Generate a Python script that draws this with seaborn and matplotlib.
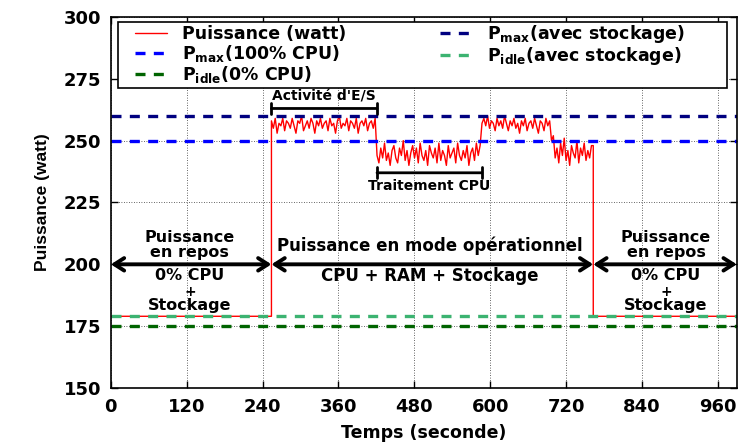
import numpy as np
import pandas as pd
import seaborn as sns
import matplotlib.pyplot as plt
from matplotlib.patches import Rectangle

# reference levels (watt)
p_max_stockage = 260
p_max_cpu = 250
p_idle_stockage = 179
p_idle_cpu = 175

# phase boundaries (s)
t_start = 254
t_io_end = 421
t_cpu_end = 587
t_io2_end = 697
t_stop = 763
t_end = 990

# power readings, one every 3 s
io_phase = [258, 255, 259, 253, 257, 256, 259, 254, 258, 257, 255, 259, 256, 253,
            258, 257, 260, 254, 256, 258, 255, 259, 257, 253, 258, 256, 259, 255,
            257, 258, 254, 259, 256, 257, 253, 258, 260, 255, 257, 256, 259, 254,
            258, 257, 255, 259, 253, 257, 258, 256, 259, 254, 257, 258, 255, 259]
cpu_phase = [244, 241, 247, 243, 249, 242, 245, 240, 246, 248, 243, 241, 247, 244,
             250, 242, 246, 240, 245, 248, 243, 247, 241, 249, 244, 242, 246, 240,
             248, 245, 243, 247, 241, 249, 242, 246, 244, 240, 248, 243, 245, 247,
             241, 249, 244, 242, 246, 243, 248, 240, 245, 247, 242, 249, 244, 248]
io2_phase = [257, 259, 256, 260, 255, 258, 257, 254, 259, 256, 258, 255, 260, 257,
             254, 258, 256, 259, 255, 257, 253, 258, 256, 259, 254, 257, 258, 255,
             259, 256, 253, 258, 257, 254, 259, 256, 258]
cpu2_phase = [250, 252, 243, 247, 241, 249, 244, 251, 242, 246, 240, 248, 245, 243,
              250, 241, 247, 244, 249, 242, 246, 243, 248]

xticks = [0, 120, 240, 360, 480, 600, 720, 840, 960]
yticks = [150, 175, 200, 225, 250, 275, 300]

# build the trace
times = [0, t_start]
watts = [p_idle_stockage, p_idle_stockage]
for start, end, vals in [(t_start, t_io_end, io_phase), (t_io_end, t_cpu_end, cpu_phase),
                         (t_cpu_end, t_io2_end, io2_phase), (t_io2_end, t_stop, cpu2_phase)]:
    tt = np.linspace(start, end, len(vals), endpoint=False)
    times += list(tt)
    watts += vals
times += [t_stop, t_stop, t_end]
watts += [cpu2_phase[-1], p_idle_stockage, p_idle_stockage]
df = pd.DataFrame({'t': times, 'p': watts})

sns.set_style('ticks')
plt.rcParams['font.family'] = ['DejaVu Sans']
plt.rcParams['font.weight'] = 'bold'
plt.rcParams['mathtext.fontset'] = 'dejavusans'
plt.rcParams['mathtext.default'] = 'bf'
for k in ['text.color', 'axes.labelcolor', 'xtick.color', 'ytick.color', 'axes.edgecolor']:
    plt.rcParams[k] = 'black'

fig = plt.figure(figsize=(7.39, 4.46), dpi=100)
ax = fig.add_axes([0.150, 0.130, 0.847, 0.832])

ax.grid(True, color='#333333', linestyle=(0, (1, 2)), linewidth=0.6)
ax.set_axisbelow(True)

sns.lineplot(data=df, x='t', y='p', sort=False, estimator=None, color='red',
             linewidth=1, ax=ax, label='Puissance (watt)')
dash = (0, (3, 2.5))
ax.axhline(p_max_cpu, color='#0000ff', lw=2.4, ls=dash, label=r'P$_{max}$(100% CPU)')
ax.axhline(p_idle_cpu, color='#006400', lw=2.4, ls=dash, label=r'P$_{idle}$(0% CPU)')
ax.axhline(p_max_stockage, color='#000080', lw=2.4, ls=dash, label=r'P$_{max}$(avec stockage)')
ax.axhline(p_idle_stockage, color='#3cb371', lw=2.4, ls=dash, label=r'P$_{idle}$(avec stockage)')

ax.set_xlim(0, t_end)
ax.set_ylim(150, 300)
ax.set_xticks(xticks)
ax.set_yticks(yticks)
ax.tick_params(direction='in', labelsize=13, top=True, right=True, length=5, width=1,
               pad=7)
for lab in ax.get_xticklabels() + ax.get_yticklabels():
    lab.set_fontweight('bold')
ax.set_xlabel('Temps (seconde)', fontsize=12.5, fontweight='bold', labelpad=6)
ax.set_ylabel('Puissance (watt)', fontsize=12.5, fontweight='bold', labelpad=10,
              family='Liberation Sans')
for s in ax.spines.values():
    s.set_linewidth(1.2)

# double arrows
for a, b in [(0, t_start), (t_start, t_stop), (t_stop, t_end)]:
    ax.annotate('', xy=(a, 200), xytext=(b, 200),
                arrowprops=dict(arrowstyle='<->,head_length=0.7,head_width=0.45',
                                lw=2.8, color='black', shrinkA=0, shrinkB=0))

skw = dict(ha='center', fontsize=11.5, fontweight='bold')
for xc in [125, 878]:
    ax.text(xc, 209.0, 'Puissance', va='baseline', **skw)
    ax.text(xc, 202.8, 'en repos', va='baseline', **skw)
    ax.text(xc, 193.6, '0% CPU', va='baseline', **skw)
    ax.text(xc, 189.0, '+', va='center', ha='center', fontsize=10, fontweight='bold')
    ax.text(xc, 181.6, 'Stockage', va='baseline', **skw)
tkw = dict(ha='center', fontsize=12, fontweight='bold')
ax.text(505, 205.3, 'Puissance en mode opérationnel', va='baseline', **tkw)
ax.text(505, 193.2, 'CPU + RAM + Stockage', va='baseline', **tkw)

# brackets
ax.annotate('', xy=(t_start, 263), xytext=(t_io_end, 263),
            arrowprops=dict(arrowstyle='|-|,widthA=0.4,widthB=0.4', lw=2, color='black',
                            shrinkA=0, shrinkB=0))
ax.text((t_start + t_io_end) / 2, 265, "Activité d'E/S", ha='center', va='bottom',
        fontsize=10, fontweight='bold')
ax.annotate('', xy=(t_io_end, 237), xytext=(t_cpu_end, 237),
            arrowprops=dict(arrowstyle='|-|,widthA=0.4,widthB=0.4', lw=2, color='black',
                            shrinkA=0, shrinkB=0))
ax.text((t_io_end + t_cpu_end) / 2, 234.5, 'Traitement CPU', ha='center', va='top',
        fontsize=10, fontweight='bold')

# legend: white box with black frame, entries laid out in two columns
ax.add_patch(Rectangle((0.0112, 0.8086), 0.9728, 0.178, transform=ax.transAxes,
                       facecolor='white', edgecolor='black', lw=1.2, zorder=4))
handles, labels = ax.get_legend_handles_labels()
leg = ax.legend(handles, labels, ncol=2, loc='upper left',
                bbox_to_anchor=(0.0383, 0.984), frameon=False,
                fontsize=12.5, handlelength=1.85, borderpad=0, labelspacing=0.0,
                handletextpad=0.85, columnspacing=5.4, borderaxespad=0)
leg.set_zorder(5)
for t in leg.get_texts():
    t.set_fontweight('bold')

fig.savefig('out.png', dpi=100)
